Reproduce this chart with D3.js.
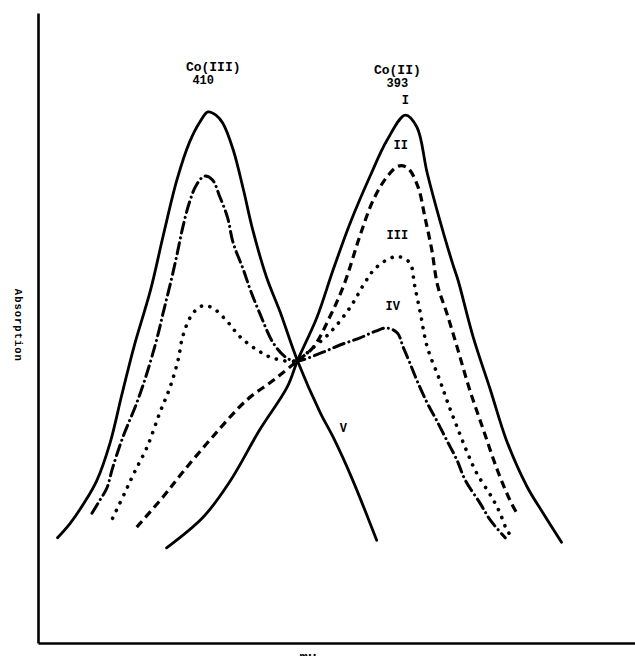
<!DOCTYPE html>
<html>
<head>
<meta charset="utf-8">
<script src="https://cdn.jsdelivr.net/npm/d3@7"></script>
<style>
  html, body { margin: 0; padding: 0; background: #fff; overflow: hidden; }
  svg { display: block; }
  text { font-family: "Liberation Mono", "DejaVu Sans Mono", monospace; font-weight: bold; fill: #000; }
</style>
</head>
<body>
<svg id="chart" width="635" height="656"></svg>
<script>
// ---- data (wavelength in mμ, relative absorption 0-100) ----
const curveNames = ["I", "II", "III", "IV", "V"];

const wavelengthI = [413.8, 410.6, 408.3, 405.7, 403.3, 402.4, 400.7, 399.3, 397.8, 396.1, 394.6, 393.0, 392.0, 391.1, 390.0, 388.9, 388.4, 387.1, 385.6, 384.2, 382.4, 381.0, 379.4];
const absorbI     = [15.1, 20.0, 25.6, 33.8, 40.6, 44.8, 51.7, 59.2, 66.7, 74.0, 79.8, 83.8, 81.9, 74.6, 67.1, 60.3, 57.5, 48.6, 40.2, 32.2, 24.8, 20.6, 16.0];

const wavelengthII = [416.4, 414.1, 412.4, 409.8, 406.8, 404.5, 402.4, 401.0, 399.6, 398.3, 397.0, 395.8, 394.6, 393.6, 392.8, 391.9, 391.3, 390.7, 390.2, 389.4, 388.5, 387.4, 386.2, 385.0, 383.9, 383.2];
const absorbII     = [18.4, 23.2, 27.1, 32.7, 38.6, 41.7, 44.8, 47.0, 51.7, 57.1, 64.4, 70.3, 74.0, 75.7, 75.4, 72.4, 67.6, 62.4, 56.8, 52.4, 47.0, 40.2, 33.8, 27.5, 22.7, 20.3];

const wavelengthIII = [418.5, 417.4, 416.6, 415.5, 414.4, 413.5, 412.8, 412.4, 411.6, 410.7, 409.8, 408.5, 407.4, 405.9, 404.5, 402.4, 401.3, 399.6, 397.8, 396.5, 395.6, 394.3, 393.5, 392.6, 392.2, 391.7, 391.1, 390.0, 389.3, 388.5, 387.6, 386.8, 385.5, 384.8, 384.2, 383.7];
const absorbIII     = [19.8, 24.0, 27.1, 31.1, 36.5, 40.6, 44.9, 48.6, 52.1, 53.5, 53.2, 51.0, 48.6, 46.5, 45.2, 44.8, 46.5, 49.2, 53.3, 57.3, 59.5, 61.1, 61.3, 60.3, 56.8, 52.4, 47.0, 41.7, 38.1, 34.3, 30.2, 27.0, 23.2, 20.8, 18.1, 16.7];

const wavelengthIV = [420.3, 419.6, 419.0, 418.5, 417.6, 416.4, 415.5, 414.6, 414.1, 413.5, 412.9, 412.4, 411.8, 411.2, 410.5, 409.8, 409.2, 408.5, 408.0, 407.1, 406.5, 405.7, 404.5, 403.3, 402.4, 400.4, 398.7, 397.0, 395.6, 394.6, 393.7, 393.2, 392.6, 392.0, 391.1, 390.3, 389.4, 388.5, 387.8, 386.5, 385.6, 384.3];
const absorbIV     = [20.6, 22.7, 24.6, 27.8, 32.7, 38.1, 42.9, 48.6, 52.4, 56.8, 61.6, 65.9, 70.0, 72.7, 74.1, 73.5, 71.0, 67.6, 63.5, 59.2, 56.0, 52.4, 47.6, 45.2, 44.8, 46.0, 47.3, 48.4, 49.5, 50.0, 49.2, 47.0, 44.4, 41.7, 38.1, 35.4, 32.2, 29.0, 25.9, 22.2, 19.5, 16.7];

const wavelengthV = [423.3, 422.2, 421.1, 419.9, 418.7, 417.7, 416.6, 415.2, 414.1, 412.9, 411.8, 410.9, 410.2, 409.5, 408.9, 408.0, 407.1, 406.3, 405.1, 403.9, 402.4, 400.4, 399.3, 397.6, 395.5];
const absorbV     = [16.7, 19.0, 21.9, 25.7, 31.9, 39.4, 47.3, 56.0, 64.6, 73.5, 79.5, 82.7, 84.3, 83.8, 82.5, 78.3, 71.9, 65.6, 58.1, 52.5, 44.8, 36.5, 32.7, 25.9, 16.3];

// peak annotations
const peakLabels = ["Co(III)", "Co(II)"];
const peakWavelengths = [410, 393];
const yAxisTitle = "Absorption";
const xAxisTitle = "mμ";

// curve label anchor points (wavelength, absorption)
const labelWavelength = [393.0, 393.4, 393.7, 394.1, 398.4];
const labelAbsorb     = [85.6, 78.4, 64.1, 52.9, 33.5];

// ---- drawing ----
const svg = d3.select("#chart");
const x = d3.scaleLinear().domain([425, 373]).range([38, 635]);
const y = d3.scaleLinear().domain([0, 100]).range([643, 13]);

const series = [
  { name: "I",   wl: wavelengthI,   a: absorbI,   dash: null,          cap: "round", w: 2.8 },
  { name: "II",  wl: wavelengthII,  a: absorbII,  dash: "8,5",         cap: "butt",  w: 3.2 },
  { name: "III", wl: wavelengthIII, a: absorbIII, dash: "0.1,8.5",     cap: "round", w: 3.6 },
  { name: "IV",  wl: wavelengthIV,  a: absorbIV,  dash: "11,5,0.1,5",  cap: "round", w: 3.0 },
  { name: "V",   wl: wavelengthV,   a: absorbV,   dash: null,          cap: "round", w: 2.8 }
];

const line = d3.line()
  .x(d => x(d[0]))
  .y(d => y(d[1]))
  .curve(d3.curveCatmullRom.alpha(0.5));

svg.append("g").selectAll("path")
  .data(series)
  .join("path")
  .attr("d", s => line(s.wl.map((w, i) => [w, s.a[i]])))
  .attr("fill", "none")
  .attr("stroke", "#000")
  .attr("stroke-width", s => s.w)
  .attr("stroke-linecap", s => s.cap)
  .attr("stroke-linejoin", "round")
  .attr("stroke-dasharray", s => s.dash);

// axes (no ticks)
const xAxis = d3.axisBottom(x).tickValues([]).tickSizeOuter(0);
const yAxis = d3.axisLeft(y).tickValues([]).tickSizeOuter(0);
const gx = svg.append("g").attr("transform", `translate(0,${y(0)})`).call(xAxis);
const gy = svg.append("g").attr("transform", `translate(${x(425)},0)`).call(yAxis);
[gx, gy].forEach(g => g.select(".domain").attr("stroke", "#000").attr("stroke-width", 2.6));

// peak labels
svg.append("g").selectAll("text.peak")
  .data(peakLabels)
  .join("text")
  .attr("class", "peak")
  .attr("x", (d, i) => x(peakWavelengths[i]) + (i === 0 ? 3 : -8))
  .attr("y", (d, i) => i === 0 ? 71 : 74)
  .attr("text-anchor", "middle")
  .attr("font-size", 13)
  .text(d => d);

svg.append("g").selectAll("text.nm")
  .data(peakWavelengths)
  .join("text")
  .attr("class", "nm")
  .attr("x", (d, i) => x(d) + (i === 0 ? -7 : -8))
  .attr("y", (d, i) => i === 0 ? 84 : 87)
  .attr("text-anchor", "middle")
  .attr("font-size", 12)
  .text(d => d);

// curve labels
svg.append("g").selectAll("text.curve")
  .data(curveNames)
  .join("text")
  .attr("class", "curve")
  .attr("x", (d, i) => x(labelWavelength[i]))
  .attr("y", (d, i) => y(labelAbsorb[i]))
  .attr("text-anchor", "middle")
  .attr("font-size", 12)
  .text(d => d);

// axis titles
svg.append("text")
  .attr("transform", `translate(15,${y(50.5)}) rotate(90)`)
  .attr("text-anchor", "middle")
  .attr("font-family", "DejaVu Sans")
  .attr("font-size", 10.5)
  .attr("textLength", 72)
  .attr("lengthAdjust", "spacing")
  .text(yAxisTitle);

svg.append("text")
  .attr("x", 308)
  .attr("y", 662)
  .attr("text-anchor", "middle")
  .attr("font-family", "DejaVu Sans")
  .attr("font-size", 14)
  .text(xAxisTitle);
</script>
</body>
</html>
